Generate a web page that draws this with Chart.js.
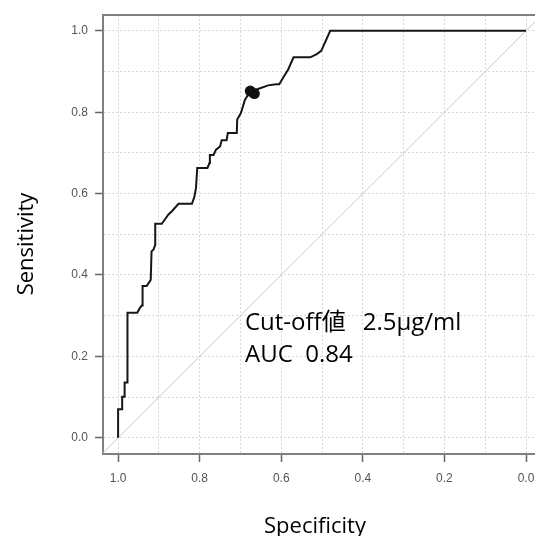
<!DOCTYPE html>
<html><head><meta charset="utf-8">
<script src="https://cdn.jsdelivr.net/npm/chart.js@4/dist/chart.umd.min.js"></script>
<style>html,body{margin:0;padding:0;background:#fff;overflow:hidden}</style>
</head><body>
<canvas id="c" width="535" height="536"></canvas>
<script>
// ROC curve (specificity on reversed x axis)
const specificity = [1.000,1.000,0.990,0.990,0.984,0.984,0.977,0.977,0.953,0.947,0.942,0.940,0.940,0.930,0.920,0.918,0.913,0.909,0.909,0.893,0.885,0.877,0.867,0.852,0.819,0.813,0.809,0.806,0.781,0.776,0.775,0.766,0.760,0.750,0.746,0.734,0.731,0.709,0.708,0.699,0.694,0.689,0.681,0.672,0.657,0.632,0.613,0.605,0.594,0.583,0.570,0.529,0.513,0.502,0.480,0.000];
const sensitivity = [0.000,0.070,0.070,0.101,0.101,0.136,0.136,0.307,0.307,0.318,0.325,0.325,0.373,0.373,0.388,0.458,0.463,0.474,0.526,0.526,0.537,0.548,0.558,0.575,0.575,0.592,0.614,0.663,0.663,0.675,0.695,0.695,0.708,0.716,0.731,0.731,0.749,0.749,0.782,0.798,0.814,0.831,0.843,0.850,0.857,0.866,0.869,0.869,0.887,0.905,0.935,0.935,0.943,0.951,1.000,1.000];
// cut-off point marker
const cutoffSpec = [0.676, 0.666];
const cutoffSens = [0.852, 0.846];
// chance diagonal
const diagSpec = [1.04, -0.04];
const diagSens = [-0.04, 1.04];
// axes
const tickValues = [0,0.1,0.2,0.3,0.4,0.5,0.6,0.7,0.8,0.9,1.0];
const labelledTicks = [0,0.2,0.4,0.6,0.8,1.0];
const xTitle = 'Specificity';
const yTitle = 'Sensitivity';
const annotationLine1 = ['Cut-off値', '2.5μg/ml'];
const annotationLine2 = 'AUC  0.84';
const annotationSpec = 0.689;
const annotationSens = [0.265, 0.186];

const isLabelled = v => labelledTicks.some(t => Math.abs(t - v) < 1e-6);
const pts = (xs, ys) => xs.map((x, i) => ({x, y: ys[i]}));

const framePlugin = {
  id: 'frame',
  beforeDatasetsDraw(chart) {
    const {ctx, chartArea} = chart;
    ctx.save();
    ctx.strokeStyle = '#808080';
    ctx.lineWidth = 2;
    ctx.beginPath();
    ctx.moveTo(chartArea.left - 1, chartArea.top);
    ctx.lineTo(chartArea.right, chartArea.top);
    ctx.stroke();
    ctx.restore();
  },
  afterDraw(chart) {
    const {ctx, chartArea, scales} = chart;
    ctx.save();
    ctx.fillStyle = '#000';
    ctx.font = '22px "Open Sans", sans-serif';
    ctx.textAlign = 'center';
    ctx.textBaseline = 'alphabetic';
    ctx.fillText(xTitle, (chartArea.left + chartArea.right) / 2 - 4, chart.height - 3);
    ctx.save();
    ctx.translate(33, 244);
    ctx.rotate(-Math.PI / 2);
    ctx.fillText(yTitle, 0, 0);
    ctx.restore();
    ctx.font = '24px "Open Sans", "Noto Sans CJK JP", sans-serif';
    ctx.textAlign = 'left';
    const ax = scales.x.getPixelForValue(annotationSpec);
    const y1 = scales.y.getPixelForValue(annotationSens[0]);
    const y2 = scales.y.getPixelForValue(annotationSens[1]);
    ctx.fillText(annotationLine1[0], ax, y1);
    const w1 = ctx.measureText(annotationLine1[0]).width;
    ctx.fillText(annotationLine1[1], ax + w1 + 17, y1);
    ctx.fillText(annotationLine2, ax, y2);
    ctx.restore();
  }
};

const axisCommon = (extra) => Object.assign({
  type: 'linear',
  afterBuildTicks: s => { s.ticks = tickValues.map(v => ({value: v})); },
  grid: {
    color: '#d9d9d9',
    lineWidth: 1,
    tickLength: 8,
    tickWidth: 1.5,
    tickColor: c => (c.tick && isLabelled(c.tick.value)) ? '#666' : 'rgba(0,0,0,0)'
  },
  border: {color: '#808080', width: 2, dash: [2, 2]},
  ticks: {
    autoSkip: false,
    maxRotation: 0,
    color: '#555',
    font: {family: '"Liberation Sans", Arial, sans-serif', size: 12},
    callback: v => isLabelled(v) ? Number(v).toFixed(1) : ''
  }
}, extra);

const xAxis = axisCommon({min: -0.022, max: 1.037, reverse: true,
  afterFit: s => { s.height = 82; s.paddingLeft = 0; s.paddingRight = 0; }});
xAxis.ticks.padding = 9;
const yAxis = axisCommon({min: -0.04, max: 1.039,
  afterFit: s => { s.width = 103; s.paddingTop = 0; s.paddingBottom = 0; }});
yAxis.ticks.padding = 7;

new Chart(document.getElementById('c'), {
  type: 'scatter',
  data: {
    datasets: [
      {data: pts(diagSpec, diagSens), showLine: true, borderColor: '#c8c8c8', borderWidth: 1, pointRadius: 0, order: 3},
      {data: pts(specificity, sensitivity), showLine: true, borderColor: '#161616', borderWidth: 2, pointRadius: 0, tension: 0, order: 2},
      {data: pts(cutoffSpec, cutoffSens), showLine: false, pointRadius: 5.5, pointBackgroundColor: '#111', pointBorderColor: '#111', pointBorderWidth: 0, order: 1}
    ]
  },
  options: {
    responsive: false,
    animation: false,
    devicePixelRatio: 1,
    layout: {autoPadding: false, padding: {top: 15, right: 0, left: 0, bottom: 0}},
    plugins: {legend: {display: false}, tooltip: {enabled: false}},
    scales: {x: xAxis, y: yAxis}
  },
  plugins: [framePlugin]
});
</script>
</body></html>
